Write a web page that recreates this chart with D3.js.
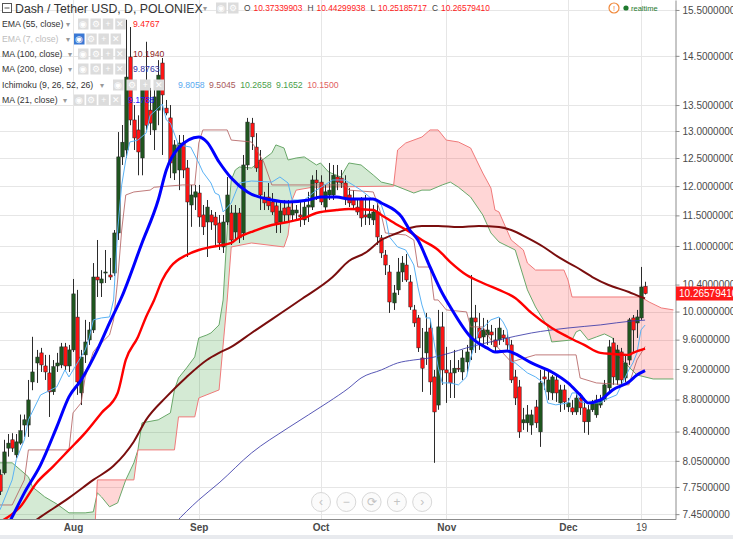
<!DOCTYPE html>
<html><head><meta charset="utf-8">
<script src="https://cdn.jsdelivr.net/npm/d3@7"></script>
<style>
html,body{margin:0;padding:0;background:#fff;overflow:hidden;}
svg{display:block;font-family:"Liberation Sans",Arial,sans-serif;}
</style></head><body>
<svg id="c" width="733" height="539"></svg>
<script>
// ---------- DATA ----------
const startDay = Date.UTC(2016, 6, 14);          // first visible daily bar
const dayDate = i => new Date(startDay + i * 86400000);

// daily candles [open, high, low, close], one per day from 14 Jul 2016
const candles = [
[7.89,7.95,7.66,7.70],[7.91,8.30,7.89,8.155],[8.20,8.37,8.10,8.26],[8.30,8.38,8.155,8.20],[8.12,8.37,8.085,8.275],
[8.26,8.61,8.24,8.41],[8.48,8.61,8.335,8.545],[8.48,9.054,8.335,8.795],[9.028,9.64,8.92,9.16],[9.28,9.458,9.015,9.36],
[9.417,9.486,9.16,9.254],[9.24,9.39,9.054,9.16],[9.147,9.39,8.58,8.898],[8.90,9.32,8.86,9.23],[9.24,9.417,9.16,9.28],
[9.254,9.555,9.21,9.50],[9.50,9.555,9.187,9.24],[9.24,9.527,9.16,9.458],[9.458,10.485,9.43,10.26],[9.92,10.32,8.86,9.028],
[8.885,9.458,8.73,9.36],[9.39,9.88,9.28,9.568],[9.596,9.85,9.527,9.736],[9.736,10.73,9.694,10.515],[10.515,11.096,10.214,10.47],
[10.424,10.62,10.214,10.485],[10.576,10.936,10.424,10.592],[10.546,10.81,10.47,10.515],[10.576,11.258,10.53,11.21],[11.21,12.98,11.096,12.52],
[12.52,13.114,12.374,12.79],[12.646,15.28,12.50,14.06],[14.477,15.12,13.11,13.21],[13.21,13.50,12.646,12.87],[13.02,13.30,12.19,12.61],
[12.50,14.0,12.19,13.84],[13.90,14.80,13.02,13.11],[13.40,13.84,12.925,13.15],[13.02,14.0,12.646,13.66],[13.40,14.41,13.11,14.10],
[14.35,14.455,12.555,13.70],[13.44,13.60,13.30,13.345],[13.25,13.50,12.14,12.41],[12.23,12.83,12.107,12.74],[12.284,12.925,11.93,12.775],
[12.775,12.925,12.14,12.284],[12.32,12.464,10.825,11.726],[11.675,12.02,11.31,11.846],[11.81,12.02,11.59,11.90],[11.88,12.02,11.31,11.473],
[11.507,11.675,11.177,11.31],[11.39,11.76,10.825,11.64],[11.507,11.59,11.26,11.39],[11.473,11.557,11.016,11.34],[11.374,11.507,10.936,11.048],
[10.984,11.507,10.889,11.39],[11.39,12.16,11.34,11.846],[11.54,11.675,11.016,11.096],[11.226,11.675,11.096,11.54],[11.54,11.624,11.048,11.13],
[11.21,12.555,11.096,12.374],[12.374,13.25,12.284,13.17],[13.15,13.25,12.646,12.89],[12.70,12.96,12.25,12.32],[12.464,12.646,11.59,11.846],
[11.81,11.90,11.59,11.71],[11.81,12.054,11.59,11.66],[11.726,11.88,11.507,11.557],[11.66,11.76,11.21,11.374],[11.39,11.71,11.21,11.574],
[11.624,11.76,11.39,11.507],[11.64,11.76,11.39,11.507],[11.507,11.71,11.39,11.59],[11.54,11.675,11.424,11.59],[11.507,11.76,11.31,11.473],
[11.424,11.76,11.34,11.64],[11.64,11.90,11.39,11.675],[11.64,12.19,11.59,12.107],[12.107,12.284,11.76,12.054],[12.07,12.19,11.675,11.726],
[11.64,12.02,11.557,11.90],[11.846,12.41,11.76,11.93],[11.846,12.374,11.76,12.19],[12.16,12.374,11.93,12.07],[12.14,12.284,11.967,12.054],
[12.054,12.19,11.675,11.79],[11.846,11.967,11.64,11.71],[11.79,11.93,11.59,11.675],[11.64,11.76,11.507,11.557],[11.79,11.81,11.31,11.457],
[11.507,11.846,11.34,11.473],[11.457,11.76,11.34,11.524],[11.424,11.675,11.34,11.557],[11.557,11.76,11.016,11.145],[11.13,11.177,10.81,10.889],
[10.857,10.936,10.546,10.70],[10.592,10.70,9.98,10.14],[10.126,10.394,10.024,10.274],[10.32,10.81,10.244,10.592],[10.592,10.84,10.44,10.73],
[10.70,10.873,10.44,10.47],[10.44,10.546,10.024,10.067],[10.024,10.097,9.78,9.836],[9.908,9.95,9.43,9.486],[9.348,9.764,8.898,9.21],
[9.417,9.98,9.254,9.708],[9.764,9.88,8.86,9.028],[9.094,9.187,8.027,8.643],[8.73,10.024,8.67,9.78],[9.78,9.995,8.99,9.187],
[9.187,9.50,8.757,9.147],[9.147,9.32,8.82,9.015],[9.147,9.458,8.82,9.21],[9.21,9.32,9.16,9.20],[9.16,9.458,9.054,9.348],
[9.294,9.527,9.16,9.43],[9.458,10.546,9.32,9.908],[9.908,10.097,9.417,9.85],[9.764,9.98,9.458,9.624],[9.638,9.908,9.527,9.736],
[9.666,9.88,9.527,9.736],[9.708,9.808,9.527,9.666],[9.596,9.764,9.43,9.50],[9.596,9.908,9.527,9.764],[9.666,9.736,9.568,9.624],
[9.624,9.708,9.458,9.527],[9.527,9.596,9.015,9.054],[9.094,9.187,8.73,8.82],[8.963,9.054,8.323,8.396],[8.507,8.694,8.42,8.545],
[8.507,8.73,8.396,8.606],[8.48,8.67,8.36,8.606],[8.706,8.795,8.445,8.507],[8.396,9.187,8.215,9.015],[9.094,9.187,8.924,9.067],
[8.898,9.187,8.795,9.054],[8.885,9.12,8.795,9.094],[9.054,9.12,8.77,8.885],[8.757,8.99,8.643,8.924],[8.924,8.99,8.67,8.77],
[8.706,8.82,8.643,8.757],[8.694,8.795,8.606,8.643],[8.643,8.885,8.606,8.82],[8.82,8.885,8.606,8.694],[8.694,8.82,8.384,8.52],
[8.52,8.73,8.36,8.67],[8.67,8.795,8.643,8.745],[8.606,8.86,8.57,8.795],[8.73,8.86,8.694,8.795],[8.795,9.054,8.77,8.99],
[8.95,9.596,8.898,9.50],[9.555,9.624,8.99,9.094],[9.054,9.527,8.99,9.458],[9.43,9.486,8.99,9.054],[9.08,9.39,9.028,9.28],
[9.32,9.908,9.254,9.88],[9.908,9.95,9.43,9.736],[9.836,10.024,9.624,9.922],[9.908,10.67,9.88,10.364],[10.37339903,10.44299938,10.25185717,10.26579410]
];

// indicator lines: [day offset from first bar, value]
const ma21 = [[0,7.177],[3,7.42],[6,7.684],[10,8.003],[14,8.457],[17,8.834],[20,9.054],[24,9.458],[27,9.836],[30,10.214],[35,11.048],[39,11.76],[41,12.284],[44,12.683],[49,12.887],[51,12.794],[54,12.428],[57,12.142],[61,11.898],[67,11.76],[71,11.726],[76,11.76],[79,11.81],[83,11.81],[86,11.776],[92,11.776],[94,11.709],[99,11.474],[101,11.258],[103,11.096],[106,10.669],[109,10.274],[111,10.067],[116,9.638],[120,9.486],[122,9.43],[125,9.444],[127,9.403],[131,9.281],[136,9.16],[140,9.015],[143,8.859],[145,8.757],[148,8.795],[151,8.924],[155,9.028],[157,9.12],[159,9.1788]];
const ema55 = [[0,7.367],[5,7.53],[9,7.796],[13,7.98],[17,8.179],[21,8.384],[25,8.631],[29,8.885],[31,9.321],[34,9.638],[36,9.922],[38,10.17],[40,10.47],[42,10.669],[46,10.857],[49,10.936],[52,10.984],[57,11.048],[59,11.145],[62,11.226],[67,11.34],[71,11.39],[75,11.457],[78,11.54],[83,11.59],[86,11.607],[92,11.59],[94,11.507],[98,11.34],[101,11.226],[104,11.096],[108,10.936],[111,10.746],[115,10.546],[119,10.424],[123,10.32],[127,10.199],[131,9.98],[136,9.764],[140,9.638],[144,9.527],[148,9.417],[151,9.403],[155,9.39],[156,9.417],[159,9.4767]];
const ma100 = [[0,7.106],[10,7.42],[17,7.628],[23,7.83],[28,7.992],[33,8.28],[36,8.544],[41,8.834],[46,9.094],[51,9.321],[54,9.417],[57,9.5],[62,9.694],[74,10.17],[82,10.515],[86,10.763],[90,10.889],[94,11.096],[98,11.21],[101,11.291],[104,11.324],[108,11.324],[113,11.307],[118,11.324],[123,11.307],[126,11.258],[130,11.13],[134,10.984],[138,10.81],[142,10.669],[146,10.515],[150,10.394],[155,10.289],[158,10.214],[159,10.194]];
const ma200 = [[41,7.25],[43,7.346],[49,7.606],[54,7.796],[62,8.143],[71,8.445],[81,8.77],[86,8.95],[89,9.08],[94,9.187],[98,9.28],[102,9.321],[106,9.348],[111,9.417],[115,9.486],[123,9.596],[131,9.694],[140,9.764],[148,9.808],[156,9.865],[159,9.8763]];
const tenkan = [[0,7.497],[3,7.83],[4,8.062],[6,8.299],[7,8.544],[10,8.859],[14,8.963],[16,9.187],[17,9.094],[21,9.458],[22,9.624],[23,9.88],[25,9.908],[27,9.922],[28,10.17],[29,11.258],[30,12.02],[31,12.464],[32,12.794],[34,12.83],[36,12.96],[37,13.30],[39,13.44],[40,13.52],[41,13.21],[42,13.15],[44,12.74],[47,12.70],[49,12.41],[50,12.247],[52,12.054],[53,11.88],[54,11.846],[55,11.557],[57,11.71],[59,12.054],[62,12.089],[67,12.07],[69,12.16],[71,12.054],[72,11.76],[75,11.76],[78,11.93],[82,12.107],[85,12.107],[87,12.02],[89,11.93],[92,11.76],[94,11.675],[95,11.474],[96,11.145],[98,10.984],[100,10.936],[102,10.70],[103,10.364],[104,10.097],[105,9.908],[106,9.908],[108,9.227],[109,9.015],[111,9.015],[113,8.989],[115,9.094],[116,9.348],[118,9.708],[121,9.88],[123,9.922],[124,9.85],[125,9.736],[126,9.294],[127,9.281],[130,9.147],[132,9.094],[134,9.015],[135,8.757],[137,8.732],[140,8.757],[141,8.885],[142,8.885],[143,8.77],[145,8.757],[148,8.757],[149,8.795],[152,8.859],[155,9.187],[156,9.281],[157,9.417],[158,9.736],[159,9.8058]];
const kijun = [[0,7.55],[3,7.55],[6,7.83],[7,8.179],[17,8.179],[18,8.631],[20,8.757],[21,9.094],[23,9.43],[24,9.5],[27,9.666],[28,9.88],[29,10.47],[30,11.258],[31,11.846],[33,11.898],[37,11.93],[38,11.98],[45,12.02],[48,12.02],[49,12.775],[50,13.02],[56,13.02],[57,12.83],[62,12.794],[63,12.683],[65,12.428],[67,12.02],[85,12.02],[86,11.93],[92,11.898],[93,11.709],[94,11.507],[95,11.21],[100,11.177],[102,11.096],[103,10.669],[106,10.669],[107,10.17],[108,10.17],[110,10.024],[115,9.995],[116,9.78],[119,9.78],[121,9.596],[126,9.294],[132,9.39],[142,9.39],[143,9.08],[147,9.015],[155,8.989],[157,9.321],[159,9.5045]];
const leadA = [[0,8.027],[3,8.027],[5,7.946],[7,7.865],[8,7.75],[11,7.64],[14,7.561],[17,7.464],[21,7.464],[23,7.475],[24,7.684],[25,7.64],[27,7.53],[29,7.573],[31,7.83],[33,8.027],[34,8.179],[35,8.507],[39,8.544],[42,8.631],[43,8.924],[44,9.08],[46,9.214],[48,9.362],[49,9.624],[51,9.666],[52,9.694],[54,9.808],[55,10.17],[56,11.258],[57,12.107],[58,12.284],[59,12.338],[62,12.32],[64,12.428],[67,12.592],[68,12.74],[70,12.683],[71,12.464],[73,12.5],[75,12.52],[78,12.374],[79,12.41],[81,12.248],[84,12.16],[86,12.41],[89,12.374],[92,12.195],[94,12.07],[97,12.02],[102,11.88],[104,11.93],[106,11.93],[109,12.02],[111,12.07],[113,11.98],[116,11.81],[119,11.507],[121,11.21],[123,11.064],[127,10.936],[130,10.32],[132,10.067],[135,9.78],[136,9.568],[141,9.596],[142,9.708],[143,9.736],[145,9.596],[147,9.638],[149,9.68],[151,9.624],[152,9.39],[155,9.227],[157,9.12],[161,9.067],[166,9.067]];
const leadB = [[0,6.97],[23,6.97],[24,7.83],[33,7.83],[34,8.179],[43,8.179],[44,8.581],[48,8.581],[49,8.82],[54,8.924],[56,10.17],[57,10.984],[62,11.048],[70,10.984],[71,11.177],[72,11.76],[73,11.93],[77,11.98],[97,12.0],[98,12.646],[100,12.775],[104,12.887],[106,13.02],[108,13.02],[110,12.83],[113,12.794],[116,12.683],[119,12.23],[121,11.967],[122,11.59],[123,11.557],[126,11.096],[129,10.936],[130,10.73],[132,10.622],[139,10.622],[140,10.47],[141,10.214],[158,10.214],[160,10.14],[163,10.053],[166,10.024]];

const priceTicks = [15.5,14.5,13.5,13,12.5,12,11.5,11,10.4,10,9.6,9.2,8.8,8.4,8.05,7.75,7.45];
const timeTicks = [[2016,7,1,"Aug"],[2016,8,1,"Sep"],[2016,9,1,"Oct"],[2016,10,1,"Nov"],[2016,11,1,"Dec"],[2016,11,19,"19"]];
const lastClose = 10.26579410;
const ohlc = [["O","10.37339903"],["H","10.44299938"],["L","10.25185717"],["C","10.26579410"]];
const legendRows = [
  {label:"EMA (55, close)", values:[["9.4767","#ff1a1a"]]},
  {label:"EMA (7, close)", values:[], hidden:true},
  {label:"MA (100, close)", values:[["10.1940","#8b1c1c"]]},
  {label:"MA (200, close)", values:[["9.8763","#3434a8"]]},
  {label:"Ichimoku (9, 26, 52, 26)", values:[["9.8058","#5aaaf0"],["9.5045","#a85a5a"],["10.2658","#4a9e4a"],["9.1652","#4a9e4a"],["10.1500","#e26060"]]},
  {label:"MA (21, close)", values:[["9.1788","#1a1aff"]]}
];

// ---------- LAYOUT ----------
const W = 733, H = 539, PW = 675, PH = 519, PX = 4.057;
const svg = d3.select("#c");
const x = d3.scaleUtc().domain([dayDate(0), dayDate(159)]).range([0, 159 * PX]);
const y = d3.scaleLog().domain([7.3977, 15.726]).range([PH, 0]);
const xd = d => x(dayDate(d[0]));

svg.append("rect").attr("width", W).attr("height", H).attr("fill", "#fff");
const defs = svg.append("defs");
defs.append("clipPath").attr("id", "plot").append("rect").attr("width", PW).attr("height", PH);

// grid
const grid = svg.append("g");
grid.selectAll("line.h").data(priceTicks).join("line")
  .attr("x1", 0).attr("x2", PW).attr("y1", d => Math.round(y(d)) + 0.5).attr("y2", d => Math.round(y(d)) + 0.5)
  .attr("stroke", "#e6e6e6");
grid.selectAll("line.v").data(timeTicks).join("line")
  .attr("x1", d => Math.round(x(new Date(Date.UTC(d[0], d[1], d[2])))) + 0.5)
  .attr("x2", d => Math.round(x(new Date(Date.UTC(d[0], d[1], d[2])))) + 0.5)
  .attr("y1", 0).attr("y2", PH).attr("stroke", "#e6e6e6");

const plot = svg.append("g").attr("clip-path", "url(#plot)");

// Ichimoku cloud
const below = d3.area().x(xd).y0(PH + 80).y1(d => y(d[1]));
const above = d3.area().x(xd).y0(-80).y1(d => y(d[1]));
defs.append("clipPath").attr("id", "aboveB").append("path").attr("d", above(leadB));
defs.append("clipPath").attr("id", "aboveA").append("path").attr("d", above(leadA));
plot.append("g").attr("clip-path", "url(#aboveB)").append("path").attr("d", below(leadA)).attr("fill", "rgba(0,128,0,0.17)");
plot.append("g").attr("clip-path", "url(#aboveA)").append("path").attr("d", below(leadB)).attr("fill", "rgba(255,0,0,0.16)");

const lin = d3.line().x(xd).y(d => y(d[1]));
const smooth = d3.line().x(xd).y(d => y(d[1])).curve(d3.curveMonotoneX);
plot.append("path").attr("d", lin(leadA)).attr("fill", "none").attr("stroke", "#6aa86a").attr("stroke-width", 1);
plot.append("path").attr("d", lin(leadB)).attr("fill", "none").attr("stroke", "#f07a7a").attr("stroke-width", 1);

// candles
const cg = plot.append("g");
cg.selectAll("line").data(candles).join("line")
  .attr("x1", (d, i) => Math.round(x(dayDate(i))) + 0.5).attr("x2", (d, i) => Math.round(x(dayDate(i))) + 0.5)
  .attr("y1", d => y(d[1])).attr("y2", d => y(d[2]))
  .attr("stroke", "#2b2b2b").attr("stroke-width", 1);
cg.selectAll("rect").data(candles).join("rect")
  .attr("x", (d, i) => Math.round(x(dayDate(i))) + 0.5 - 1.7).attr("width", 3.4)
  .attr("y", d => y(Math.max(d[0], d[3])))
  .attr("height", d => Math.max(1, Math.abs(y(d[0]) - y(d[3]))))
  .attr("fill", d => d[3] >= d[0] ? "#1f561f" : "#ff1414")
  .attr("stroke", "#222").attr("stroke-width", 0.5);

// lines
plot.append("path").attr("d", smooth(ma200)).attr("fill", "none").attr("stroke", "#3a3aa8").attr("stroke-opacity", 0.85).attr("stroke-width", 1);
plot.append("path").attr("d", lin(kijun)).attr("fill", "none").attr("stroke", "#b05a5a").attr("stroke-opacity", 0.8).attr("stroke-width", 1);
plot.append("path").attr("d", lin(tenkan)).attr("fill", "none").attr("stroke", "#5ab2f5").attr("stroke-width", 1);
plot.append("path").attr("d", smooth(ma100)).attr("fill", "none").attr("stroke", "#7a0e0e").attr("stroke-width", 2);
plot.append("path").attr("d", smooth(ema55)).attr("fill", "none").attr("stroke", "#ff0000").attr("stroke-width", 2.4);
plot.append("path").attr("d", smooth(ma21)).attr("fill", "none").attr("stroke", "#0000ff").attr("stroke-width", 3);

// navigation buttons
const navG = svg.append("g");
["\u2039", "\u2212", "\u27f3", "+", "\u203a"].forEach((g, i) => {
  const cx = 321 + i * 25.3;
  navG.append("circle").attr("cx", cx).attr("cy", 502).attr("r", 9.5).attr("fill", "rgba(250,250,250,0.7)").attr("stroke", "#d8d8d8");
  navG.append("text").attr("x", cx).attr("y", 506).attr("text-anchor", "middle").attr("font-size", 12).attr("fill", "#c4c4c4").text(g);
});

// axes
const yAxis = d3.axisRight(y).tickValues(priceTicks).tickFormat(d3.format(".7f")).tickSize(4).tickSizeOuter(0).tickPadding(3);
const ya = svg.append("g").attr("transform", `translate(${PW + 0.5},0)`).call(yAxis);
ya.select(".domain").attr("stroke", "#8c8c8c");
ya.selectAll(".tick line").attr("stroke", "#8c8c8c");
ya.selectAll(".tick text").attr("fill", "#4a4a4a").attr("font-size", 10).attr("font-family", "Liberation Sans, Arial, sans-serif");

svg.append("line").attr("x1", 0).attr("x2", PW + 1).attr("y1", PH + 0.5).attr("y2", PH + 0.5).attr("stroke", "#8c8c8c").attr("stroke-width", 1.2);
const xAxis = d3.axisBottom(x).tickValues(timeTicks.map(d => new Date(Date.UTC(d[0], d[1], d[2]))))
  .tickFormat((d, i) => timeTicks[i][3]).tickSize(0).tickPadding(5);
const xa = svg.append("g").attr("transform", `translate(0,${PH})`).call(xAxis);
xa.select(".domain").remove();
xa.selectAll(".tick text").attr("fill", "#4a4a4a").attr("font-size", 10).attr("font-family", "Liberation Sans, Arial, sans-serif")
  .attr("font-weight", (d, i) => timeTicks[i][3] === "19" ? "normal" : "bold");
svg.append("rect").attr("x", 0).attr("y", 535).attr("width", W).attr("height", 4).attr("fill", "#e8eaee");

// last price label
const ly = y(lastClose);
svg.append("rect").attr("x", PW + 1).attr("y", ly - 7).attr("width", W - PW).attr("height", 14).attr("fill", "#ff1a1a");
svg.append("text").attr("x", PW + 4).attr("y", ly + 3.6).attr("font-size", 10).attr("fill", "#fff").text(d3.format(".8f")(lastClose));

// legend
const lg = svg.append("g");
function iconSet(x0, yc, n, firstBlue, pitch) {
  const glyphs = ["\u25c9", "\u2699", "+", "\u2715"];
  for (let i = 0; i < n; i++) {
    const bx = x0 + i * pitch;
    lg.append("rect").attr("x", bx).attr("y", yc - 5.5).attr("width", 10.5).attr("height", 11)
      .attr("fill", firstBlue && i === 0 ? "#3a78d4" : "#dcdcdc");
    lg.append("text").attr("x", bx + 5.25).attr("y", yc + 3.2).attr("text-anchor", "middle")
      .attr("font-size", 8.5).attr("fill", "#fff").text(glyphs[i % 4]);
  }
}
// title row
lg.append("rect").attr("x", 2.5).attr("y", 3.5).attr("width", 9).attr("height", 9).attr("fill", "#fff").attr("stroke", "#555");
lg.append("line").attr("x1", 4.5).attr("x2", 9.5).attr("y1", 8).attr("y2", 8).attr("stroke", "#555");
lg.append("text").attr("x", 15).attr("y", 12.5).attr("font-size", 12.3).attr("fill", "#333").text("Dash / Tether USD, D, POLONIEX");
lg.append("text").attr("x", 203).attr("y", 11).attr("font-size", 8).attr("fill", "#999").text("\u25be");
iconSet(216, 8, 2, false, 12);
let ox = 244;
ohlc.forEach(([k, v]) => {
  const t1 = lg.append("text").attr("x", ox).attr("y", 11).attr("font-size", 8.4).attr("fill", "#444").text(k);
  ox += t1.node().getComputedTextLength() + 3;
  const t2 = lg.append("text").attr("x", ox).attr("y", 11).attr("font-size", 8.4).attr("fill", "#ff1a1a").text(v);
  ox += t2.node().getComputedTextLength() + 5;
});
lg.append("circle").attr("cx", 614).attr("cy", 8).attr("r", 5).attr("fill", "#fff").attr("stroke", "#f0883a").attr("stroke-width", 1.2);
lg.append("text").attr("x", 614).attr("y", 11).attr("text-anchor", "middle").attr("font-size", 8).attr("fill", "#f0883a").text("!");
lg.append("circle").attr("cx", 626).attr("cy", 8).attr("r", 2.6).attr("fill", "#1e7a2e");
lg.append("text").attr("x", 631).attr("y", 10.5).attr("font-size", 7.5).attr("fill", "#1e7a2e").text("realtime");

const rowY = [24, 39, 54, 69, 85, 100];
const arrowX = [66, 66, 68, 68, 100, 63];
const iconX = [78, 74, 78, 78, 113, 74];
const iconPitch = [12.4, 12.2, 12.4, 12.4, 13.5, 12.2];
const valX = [133, 0, 133, 133, 178, 128];
legendRows.forEach((r, i) => {
  const yc = rowY[i];
  lg.append("text").attr("x", 2).attr("y", yc + 3).attr("font-size", 8.7).attr("fill", r.hidden ? "#bdbdbd" : "#333").text(r.label);
  lg.append("text").attr("x", arrowX[i]).attr("y", yc + 3).attr("font-size", 7.5).attr("fill", "#999").text("\u25be");
  iconSet(iconX[i], yc, 4, !!r.hidden, iconPitch[i]);
  let vx = valX[i];
  r.values.forEach(([v, c]) => {
    const t = lg.append("text").attr("x", vx).attr("y", yc + 3).attr("font-size", 8.7).attr("fill", c).text(v);
    vx += t.node().getComputedTextLength() + 4.5;
  });
});
</script>
</body></html>
